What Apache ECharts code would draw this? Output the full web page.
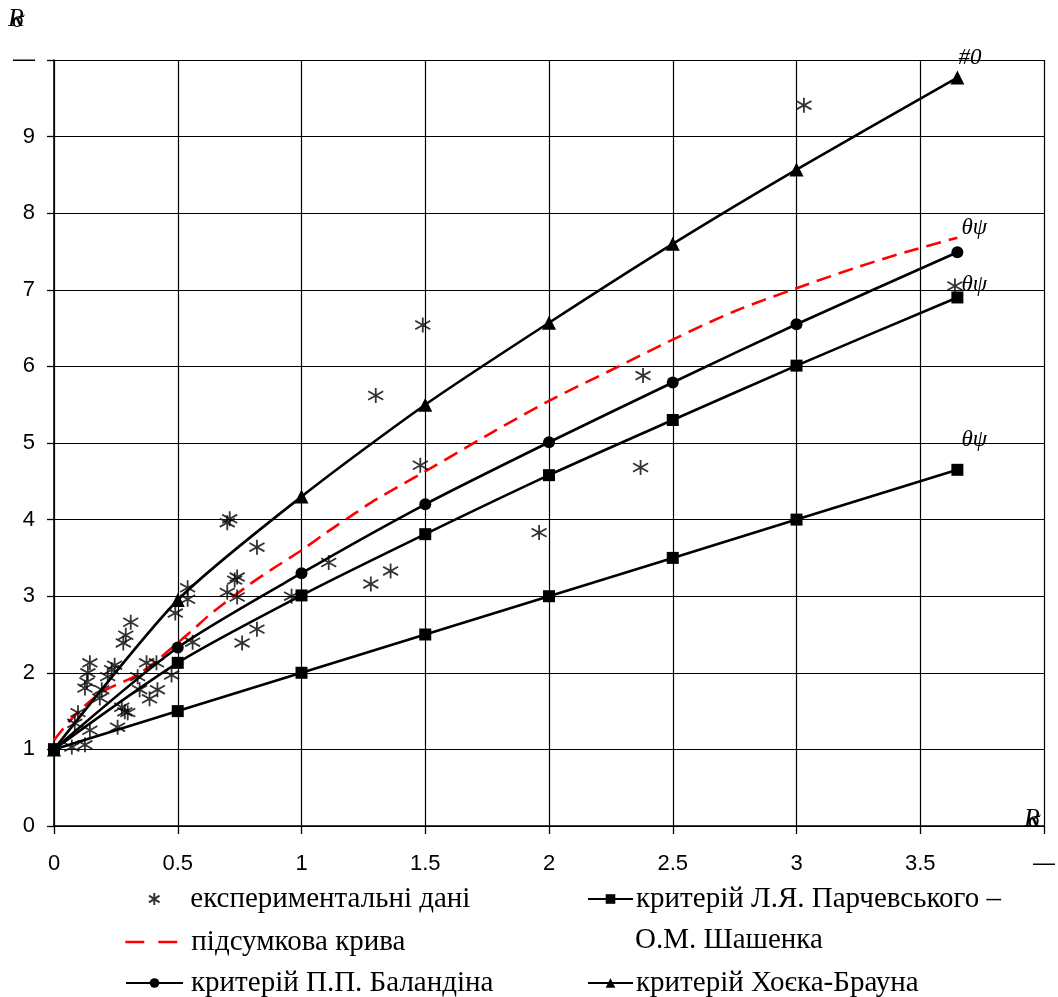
<!DOCTYPE html>
<html><head><meta charset="utf-8">
<script src="https://cdn.jsdelivr.net/npm/echarts@6/dist/echarts.min.js"></script>
<style>html,body{margin:0;padding:0;background:#fff}#c{width:1058px;height:997px}</style>
</head><body><div id="c"></div>
<script>
// ---- data ----
const expData = [
  [3.03,9.41],[3.64,7.05],[1.49,6.54],[1.30,5.62],[1.48,4.71],[2.38,5.88],[2.37,4.68],[1.96,3.83],
  [0.70,3.96],[0.71,4.01],[0.82,3.64],[0.74,3.25],[0.73,3.21],[0.70,3.05],[0.74,2.99],[1.11,3.44],
  [1.36,3.33],[1.28,3.16],[0.96,3.00],[0.82,2.57],[0.76,2.39],[0.54,3.11],[0.54,2.96],[0.49,2.78],
  [0.56,2.40],[0.31,2.66],[0.29,2.49],[0.28,2.39],[0.145,2.13],[0.137,2.00],[0.133,1.88],[0.125,1.80],
  [0.245,2.10],[0.233,2.04],[0.217,1.95],[0.193,1.78],[0.185,1.67],[0.374,2.13],[0.414,2.13],[0.338,1.95],
  [0.346,1.78],[0.386,1.66],[0.418,1.78],[0.475,1.97],[0.274,1.55],[0.286,1.49],[0.298,1.48],[0.257,1.29],
  [0.145,1.25],[0.097,1.48],[0.084,1.34],[0.072,1.03],[0.125,1.06]
];
const summaryCurve = [
  [0,1.12],[0.08,1.43],[0.19,1.74],[0.35,2.0],[0.55,2.53],[0.63,2.76],[0.78,3.13],[0.88,3.35],
  [1.0,3.6],[1.1,3.83],[1.22,4.09],[1.3,4.26],[1.5,4.63],[1.75,5.1],[2.0,5.55],[2.25,5.95],
  [2.5,6.35],[2.75,6.72],[3.0,7.02],[3.25,7.3],[3.45,7.5],[3.65,7.68]
];
const xPts = [0,0.5,1,1.5,2,2.5,3,3.65];
const balandin = [1,2.33,3.30,4.20,5.01,5.79,6.55,7.49];
const parchUpper = [1,2.13,3.01,3.81,4.58,5.30,6.01,6.90];
const parchLower = [1,1.5,2.0,2.5,3.0,3.5,4.0,4.65];
const hoekBrown = [1,2.95,4.30,5.50,6.57,7.60,8.57,9.77];
const xTicks = {min:0,max:4,interval:0.5};
const yTicks = {min:0,max:10,interval:1};

const nExp = 'експериментальні дані';
const nSum = 'підсумкова крива';
const nBal = 'критерій П.П. Баландіна';
const nPar = 'критерій Л.Я. Парчевського – О.М. Шашенка';
const nHoek = 'критерій Хоєка-Брауна';

const serif = '"Liberation Serif","Times New Roman",serif';
const sans = '"Liberation Sans",Arial,sans-serif';
const star = 'path://M50,0L50,100M6,22L94,78M6,78L94,22';

function endLabel(txt, off){
  return {show:true, formatter:txt, position:off, color:'#000',
    fontFamily:serif, fontStyle:'italic', fontSize:23};
}
function mk(ys, lbl, off){
  return ys.map((y,i)=>{
    if(i===ys.length-1 && lbl) return {value:[xPts[i],y], label:endLabel(lbl,off)};
    return [xPts[i],y];
  });
}
const lineBase = {type:'line', smooth:0.25, lineStyle:{color:'#000',width:2.6},
  itemStyle:{color:'#000'}, z:3};
const legText = {fontFamily:serif,fontSize:29,color:'#000',lineHeight:30};

const chart = echarts.init(document.getElementById('c'));
chart.setOption({
  animation:false,
  backgroundColor:'#fff',
  grid:{left:54,right:10,top:60,bottom:171},
  xAxis:{type:'value',min:xTicks.min,max:xTicks.max,interval:xTicks.interval,
    axisLine:{lineStyle:{color:'#000',width:1.5}},
    axisTick:{show:true,inside:false,length:8,lineStyle:{color:'#000',width:1.3}},
    splitLine:{show:true,lineStyle:{color:'#000',width:1.2}},
    axisLabel:{margin:27,color:'#000',fontSize:22,fontFamily:sans,
      formatter:v=> v===4?'—':String(v)}},
  yAxis:{type:'value',min:yTicks.min,max:yTicks.max,interval:yTicks.interval,
    axisLine:{show:true,lineStyle:{color:'#000',width:1.5}},
    axisTick:{show:true,inside:false,length:7,lineStyle:{color:'#000',width:1.3}},
    splitLine:{show:true,lineStyle:{color:'#000',width:1.2}},
    axisLabel:{margin:19,color:'#000',fontSize:22,fontFamily:sans,
      formatter:v=> v===10?'—':String(v)}},
  legend:[
    {data:[nExp],left:148,top:884,padding:0,itemWidth:58,itemHeight:12,
      textStyle:Object.assign({padding:[0,0,0,2]},legText)},
    {data:[nSum],left:124,top:927,padding:0,itemWidth:52,itemHeight:14,
      itemStyle:{opacity:0},lineStyle:{type:[19,14],width:2.6},
      textStyle:Object.assign({padding:[0,0,0,9]},legText)},
    {data:[nBal],left:125,top:968,padding:0,itemWidth:57,itemHeight:12,
      textStyle:Object.assign({padding:[0,0,0,3]},legText)},
    {data:[nPar],left:587,top:884,padding:0,itemWidth:45,itemHeight:12,
      formatter:()=>'критерій Л.Я. Парчевського –',
      textStyle:Object.assign({padding:[0,0,0,-2]},legText)},
    {data:[nHoek],left:587,top:968,padding:0,itemWidth:45,itemHeight:12,
      textStyle:Object.assign({padding:[0,0,0,-2]},legText)}
  ],
  graphic:[
    {type:'text',left:635,top:926,style:{text:'О.М. Шашенка',font:'29px '+serif,fill:'#000'}},
    {type:'text',left:8,top:6,style:{text:'R',font:'italic 26px '+serif,fill:'#000'}},
    {type:'text',left:12,top:9,style:{text:'σ',font:'italic 24px '+serif,fill:'#000'}},
    {type:'text',left:1024,top:806,style:{text:'R',font:'italic 26px '+serif,fill:'#000'}},
    {type:'text',left:1028,top:809,style:{text:'σ',font:'italic 24px '+serif,fill:'#000'}}
  ],
  series:[
    {name:nExp,type:'scatter',data:expData,symbol:star,symbolSize:15,z:4,
      itemStyle:{color:'rgba(0,0,0,0)',borderColor:'#000',borderWidth:1.8}},
    {name:nSum,type:'line',data:summaryCurve,smooth:0.3,symbol:'none',z:2,
      lineStyle:{color:'#ff0000',width:2.6,type:[15,8]},itemStyle:{color:'#ff0000'}},
    Object.assign({},lineBase,{name:nBal,data:mk(balandin,'θψ',[10,-30]),symbol:'circle',symbolSize:12}),
    Object.assign({},lineBase,{name:nPar,data:mk(parchUpper,'θψ',[10,-18]),symbol:'rect',symbolSize:12}),
    Object.assign({},lineBase,{name:nPar,data:mk(parchLower,'θψ',[10,-35]),symbol:'rect',symbolSize:12,smooth:false}),
    Object.assign({},lineBase,{name:nHoek,data:mk(hoekBrown,'#0',[8,-24]),symbol:'triangle',symbolSize:14})
  ]
});
</script></body></html>
